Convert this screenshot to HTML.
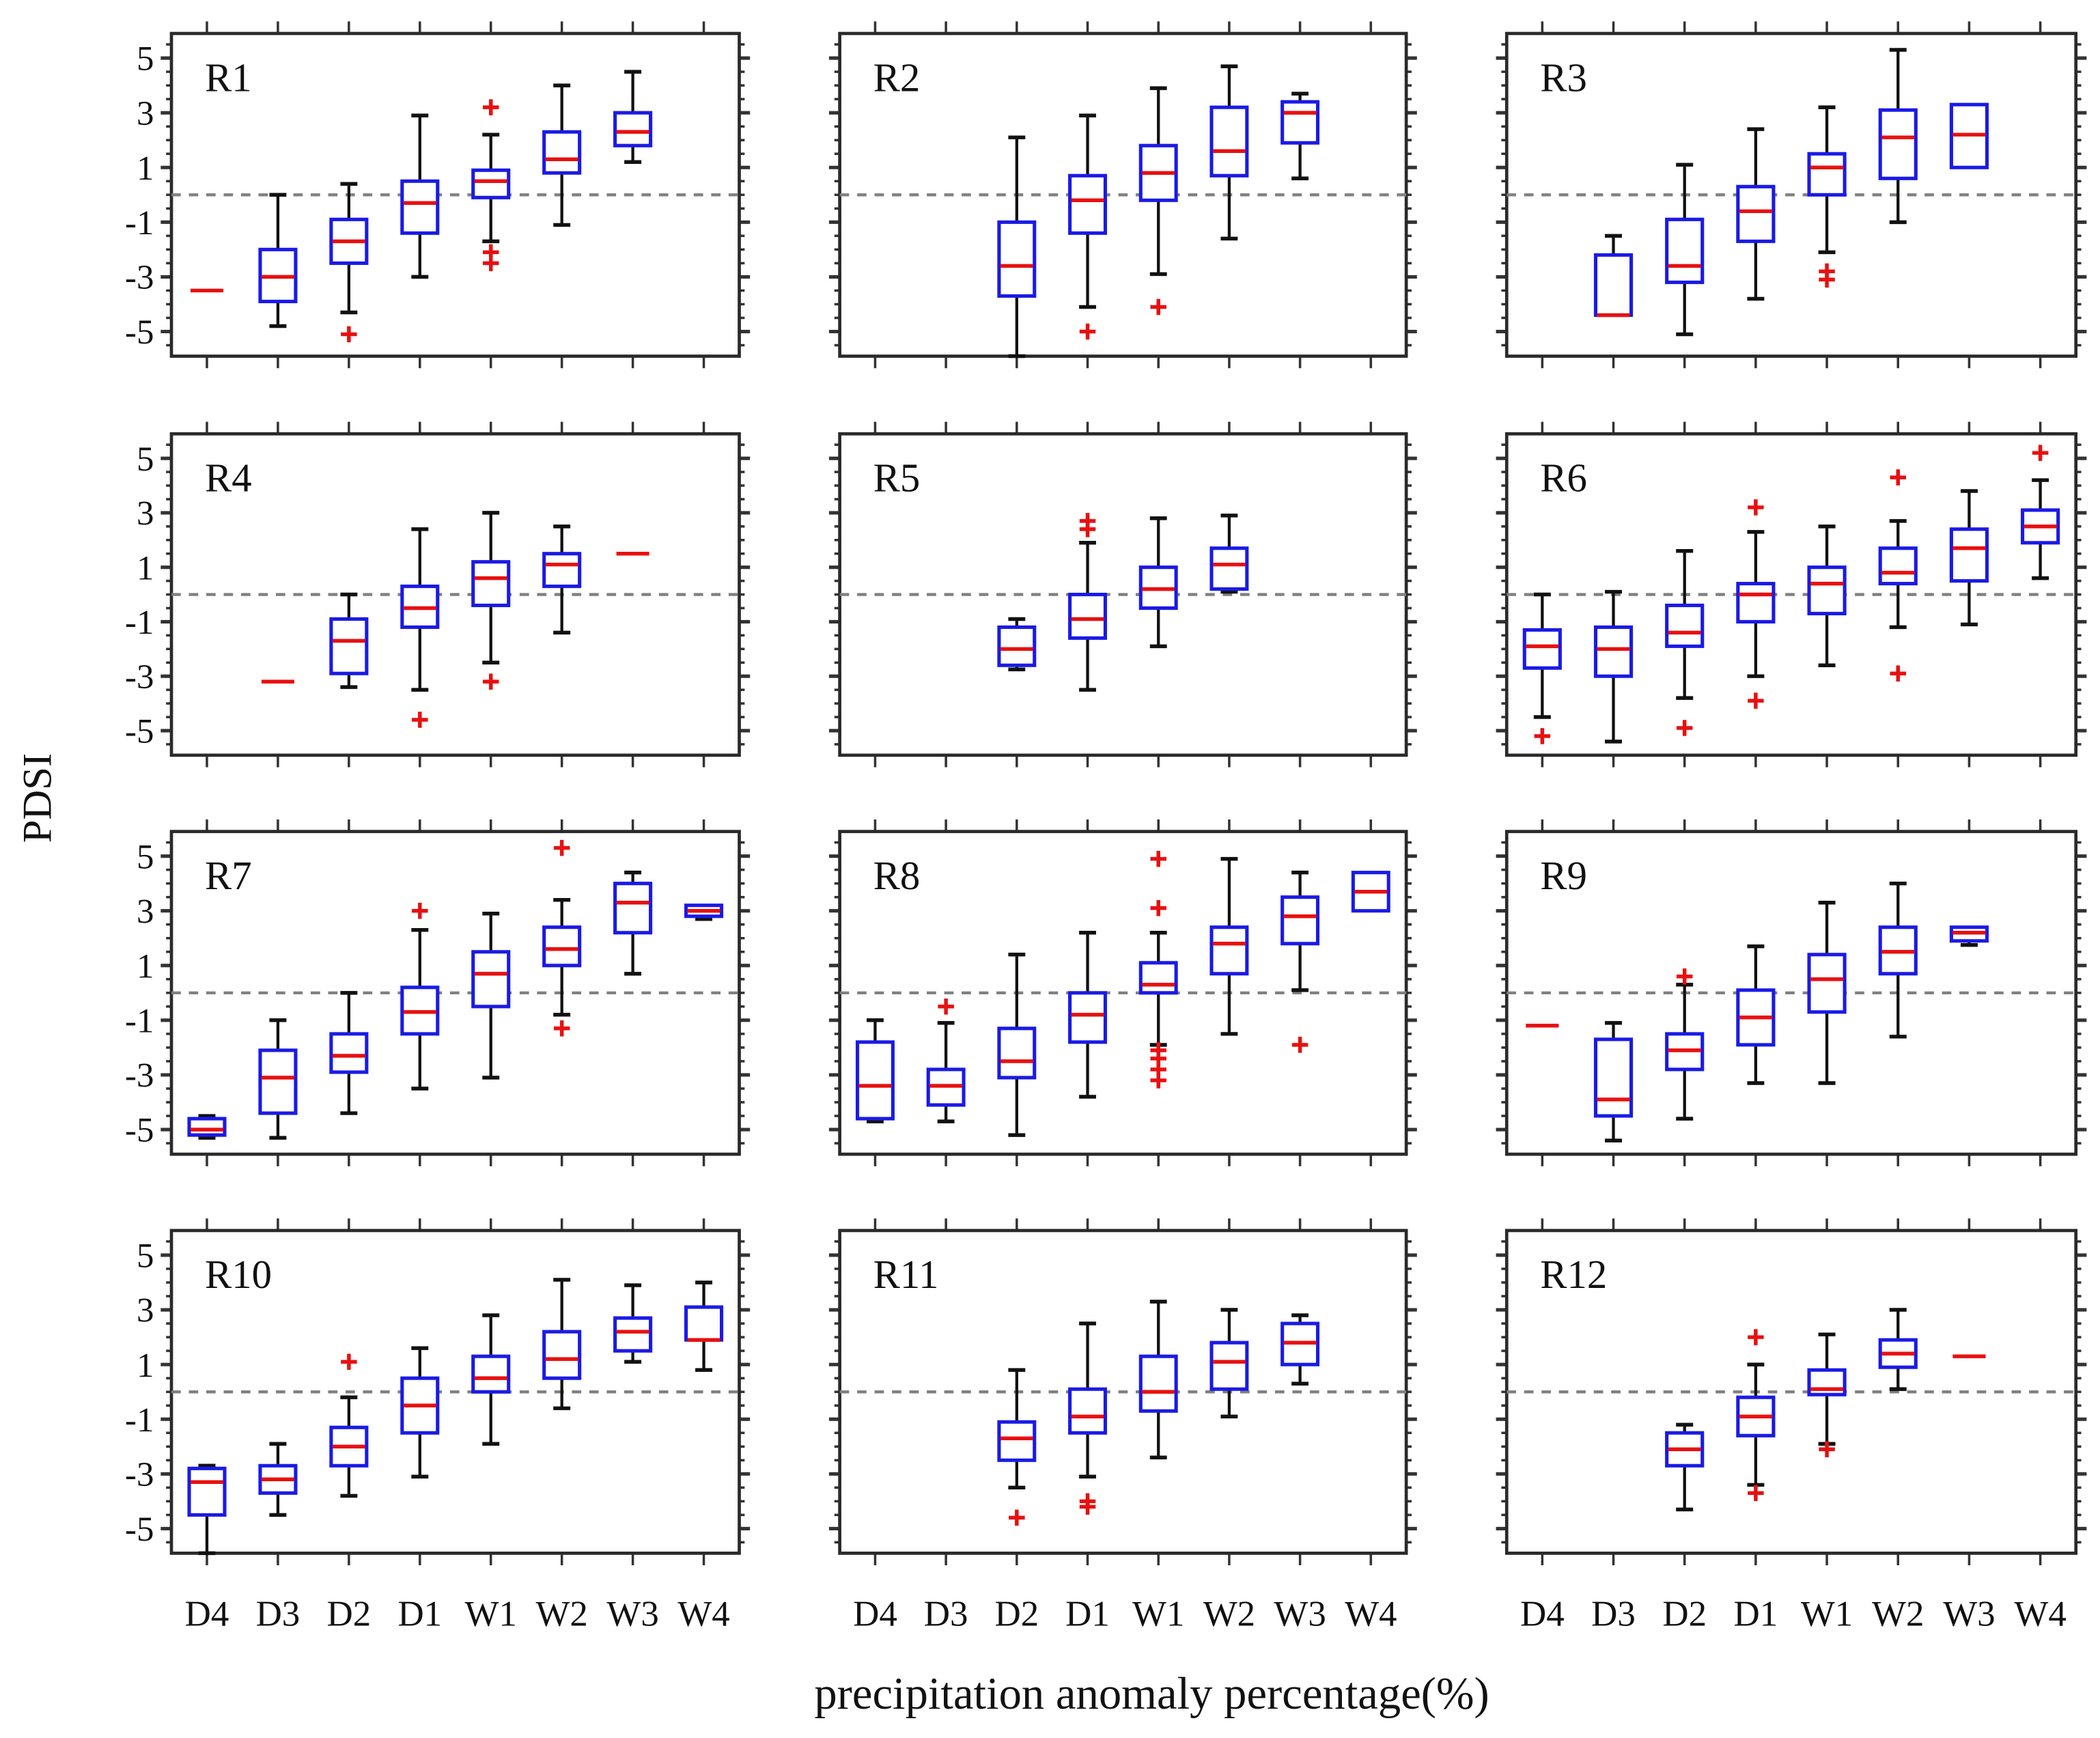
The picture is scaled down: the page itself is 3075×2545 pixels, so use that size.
<!DOCTYPE html>
<html><head><meta charset="utf-8"><style>
html,body{margin:0;padding:0;background:#fff;}
svg{display:block;}
text{font-family:"Liberation Serif",serif;fill:#111;}
</style></head><body>
<svg id="chart" width="3075" height="2545" viewBox="0 0 1568 1298" preserveAspectRatio="none" xmlns="http://www.w3.org/2000/svg">
<text x="0" y="0" font-size="31" text-anchor="middle" transform="translate(38,596) rotate(-90)">PDSI</text>
<text x="860" y="1276" font-size="34" text-anchor="middle">precipitation anomaly percentage(%)</text>
</svg>
<script>
const categories = ["D4","D3","D2","D1","W1","W2","W3","W4"];
const regions = ["R1","R2","R3","R4","R5","R6","R7","R8","R9","R10","R11","R12"];
const yTicks = [5,3,1,-1,-3,-5];
const N = null;
const lowWhisker = [
 [-3.5,-4.8,-4.3,-3.0,-1.7,-1.1,1.2,N],
 [N,N,-5.9,-4.1,-2.9,-1.6,0.6,N],
 [N,-4.4,-5.1,-3.8,-2.1,-1.0,1.0,N],
 [N,-3.2,-3.4,-3.5,-2.5,-1.4,1.5,N],
 [N,N,-2.75,-3.5,-1.9,0.1,N,N],
 [-4.5,-5.4,-3.8,-3.0,-2.6,-1.2,-1.1,0.6],
 [-5.3,-5.3,-4.4,-3.5,-3.1,-0.8,0.7,2.7],
 [-4.7,-4.7,-5.2,-3.8,-1.9,-1.5,0.1,3.0],
 [-1.2,-5.4,-4.6,-3.3,-3.3,-1.6,1.75,N],
 [-5.9,-4.5,-3.8,-3.1,-1.9,-0.6,1.1,0.8],
 [N,N,-3.5,-3.1,-2.4,-0.9,0.3,N],
 [N,N,-4.3,-3.4,-1.9,0.1,1.3,N]
];
const quartile1 = [
 [-3.5,-3.9,-2.5,-1.4,-0.1,0.8,1.8,N],
 [N,N,-3.7,-1.4,-0.2,0.7,1.9,N],
 [N,-4.4,-3.2,-1.7,0.0,0.6,1.0,N],
 [N,-3.2,-2.9,-1.2,-0.4,0.3,1.5,N],
 [N,N,-2.6,-1.6,-0.5,0.2,N,N],
 [-2.7,-3.0,-1.9,-1.0,-0.7,0.4,0.5,1.9],
 [-5.2,-4.4,-2.9,-1.5,-0.5,1.0,2.2,2.8],
 [-4.6,-4.1,-3.1,-1.8,0.0,0.7,1.8,3.0],
 [-1.2,-4.5,-2.8,-1.9,-0.7,0.7,1.9,N],
 [-4.5,-3.7,-2.7,-1.5,0.0,0.5,1.5,1.9],
 [N,N,-2.5,-1.5,-0.7,0.1,1.0,N],
 [N,N,-2.7,-1.6,-0.1,0.9,1.3,N]
];
const medians = [
 [-3.5,-3.0,-1.7,-0.3,0.5,1.3,2.3,N],
 [N,N,-2.6,-0.2,0.8,1.6,3.0,N],
 [N,-4.4,-2.6,-0.6,1.0,2.1,2.2,N],
 [N,-3.2,-1.7,-0.5,0.6,1.1,1.5,N],
 [N,N,-2.0,-0.9,0.2,1.1,N,N],
 [-1.9,-2.0,-1.4,0.0,0.4,0.8,1.7,2.5],
 [-5.0,-3.1,-2.3,-0.7,0.7,1.6,3.3,3.0],
 [-3.4,-3.4,-2.5,-0.8,0.3,1.8,2.8,3.7],
 [-1.2,-3.9,-2.1,-0.9,0.5,1.5,2.2,N],
 [-3.3,-3.2,-2.0,-0.5,0.5,1.2,2.2,1.9],
 [N,N,-1.7,-0.9,0.0,1.1,1.8,N],
 [N,N,-2.1,-0.9,0.1,1.4,1.3,N]
];
const quartile3 = [
 [-3.5,-2.0,-0.9,0.5,0.9,2.3,3.0,N],
 [N,N,-1.0,0.7,1.8,3.2,3.4,N],
 [N,-2.2,-0.9,0.3,1.5,3.1,3.3,N],
 [N,-3.2,-0.9,0.3,1.2,1.5,1.5,N],
 [N,N,-1.2,0.0,1.0,1.7,N,N],
 [-1.3,-1.2,-0.4,0.4,1.0,1.7,2.4,3.1],
 [-4.6,-2.1,-1.5,0.2,1.5,2.4,4.0,3.2],
 [-1.8,-2.8,-1.3,0.0,1.1,2.4,3.5,4.4],
 [-1.2,-1.7,-1.5,0.1,1.4,2.4,2.4,N],
 [-2.8,-2.7,-1.3,0.5,1.3,2.2,2.7,3.1],
 [N,N,-1.1,0.1,1.3,1.8,2.5,N],
 [N,N,-1.5,-0.2,0.8,1.9,1.3,N]
];
const highWhisker = [
 [-3.5,0.0,0.4,2.9,2.2,4.0,4.5,N],
 [N,N,2.1,2.9,3.9,4.7,3.7,N],
 [N,-1.5,1.1,2.4,3.2,5.3,3.3,N],
 [N,-3.2,0.0,2.4,3.0,2.5,1.5,N],
 [N,N,-0.9,1.9,2.8,2.9,N,N],
 [0.0,0.1,1.6,2.3,2.5,2.7,3.8,4.2],
 [-4.5,-1.0,0.0,2.3,2.9,3.4,4.4,3.2],
 [-1.0,-1.1,1.4,2.2,2.2,4.9,4.4,4.4],
 [-1.2,-1.1,0.3,1.7,3.3,4.0,2.4,N],
 [-2.7,-1.9,-0.2,1.6,2.8,4.1,3.9,4.0],
 [N,N,0.8,2.5,3.3,3.0,2.8,N],
 [N,N,-1.2,1.0,2.1,3.0,1.3,N]
];
const outliers = [
 [[],[],[-5.1],[],[3.2,-2.1,-2.5],[],[],[]],
 [[],[],[],[-5.0],[-4.1],[],[],[]],
 [[],[],[],[],[-2.8,-3.1],[],[],[]],
 [[],[],[],[-4.6],[-3.2],[],[],[]],
 [[],[],[],[2.4,2.7],[],[],[],[]],
 [[-5.2],[],[-4.9],[3.2,-3.9],[],[4.3,-2.9],[],[5.2]],
 [[],[],[],[3.0],[],[5.3,-1.3],[],[]],
 [[],[-0.5],[],[],[4.9,3.1,-2.1,-2.4,-2.8,-3.2],[],[-1.9],[]],
 [[],[],[0.6],[],[],[],[],[]],
 [[],[],[1.1],[],[],[],[],[]],
 [[],[],[-4.6],[-4.0,-4.2],[],[],[],[]],
 [[],[],[],[2.0,-3.7],[-2.1],[],[],[]]
];

const NS = "http://www.w3.org/2000/svg";
const svg = document.getElementById("chart");
const colX = [[128,552],[627,1050],[1125,1550]];
const rowY = [[25,266],[324,564],[621,862],[919,1160]];
const yMin = -5.9, yMax = 5.9;
function mk(tag, attrs, parent){
  const e = document.createElementNS(NS, tag);
  for (const k in attrs) e.setAttribute(k, attrs[k]);
  (parent||svg).appendChild(e);
  return e;
}
regions.forEach((name, r) => {
  const c = r % 3, row = Math.floor(r / 3);
  const [x0, x1] = colX[c], [y0, y1] = rowY[row];
  const g = mk("g", {});
  
  
  const step = (x1 - x0) / categories.length;
  const xs = i => x0 + step * (i + 0.5);
  const ys = v => y1 - (v - yMin) / (yMax - yMin) * (y1 - y0);
  for (let v = -5.5; v <= 5.51; v += 0.5) {
    const isMajor = Math.abs(((v + 5) % 2)) < 0.01 && Number.isInteger(v);
    const L = isMajor ? 8 : 4;
    mk("line", {x1: x0 - L, x2: x0, y1: ys(v), y2: ys(v), stroke: "#333", "stroke-width": isMajor ? 2.6 : 1.8}, g);
    mk("line", {x1: x1, x2: x1 + L, y1: ys(v), y2: ys(v), stroke: "#333", "stroke-width": isMajor ? 2.6 : 1.8}, g);
  }
  categories.forEach((cat, i) => {
    mk("line", {x1: xs(i), x2: xs(i), y1: y1, y2: y1 + 9, stroke: "#333", "stroke-width": 1.8}, g);
    mk("line", {x1: xs(i), x2: xs(i), y1: y0 - 9, y2: y0, stroke: "#333", "stroke-width": 1.8}, g);
  });
  const fr = mk("rect", {x: x0, y: y0, width: x1 - x0, height: y1 - y0, fill: "none", stroke: "#2a2a2a", "stroke-width": 2.4}, g);
  
  
  const zl = mk("line", {x1: x0, x2: x1, y1: ys(0), y2: ys(0), stroke: "#808080", "stroke-width": 2.2, "stroke-dasharray": "7,6"}, g);
  
  
  const lab = mk("text", {x: x0 + 25, y: y0 + 43, "font-size": 30}, g);
  lab.textContent = name;
  
  
  if (c === 0) {
    yTicks.forEach(t => {
      const tl = mk("text", {x: x0 - 13, y: ys(t) + 9, "font-size": 26, "text-anchor": "end"}, g);
      tl.textContent = t;
      
      
    });
  }
  if (row === 3) {
    categories.forEach((cat, i) => {
      const xl = mk("text", {x: xs(i), y: 1214, "font-size": 27, "text-anchor": "middle"}, g);
      xl.textContent = cat;
      
      
    });
  }
  const bw = step * 0.5, cw = step * 0.24;
  categories.forEach((cat, i) => {
    const m = medians[r][i];
    if (m === null) return;
    const bg = mk("g", {}, g);
    
    
    const lo = lowWhisker[r][i], hi = highWhisker[r][i], q1 = quartile1[r][i], q3 = quartile3[r][i];
    const x = xs(i);
    if (hi > q3) {
      mk("line", {x1: x, x2: x, y1: ys(hi), y2: ys(q3), stroke: "#111", "stroke-width": 2.2}, bg);
      mk("line", {x1: x - cw/2, x2: x + cw/2, y1: ys(hi), y2: ys(hi), stroke: "#111", "stroke-width": 2.8}, bg);
    }
    if (lo < q1) {
      mk("line", {x1: x, x2: x, y1: ys(q1), y2: ys(lo), stroke: "#111", "stroke-width": 2.2}, bg);
      mk("line", {x1: x - cw/2, x2: x + cw/2, y1: ys(lo), y2: ys(lo), stroke: "#111", "stroke-width": 2.8}, bg);
    }
    if (q3 > q1) {
      mk("rect", {x: x - bw/2, y: ys(q3), width: bw, height: ys(q1) - ys(q3), fill: "#fff", stroke: "#1a1ae6", "stroke-width": 2.6}, bg);
    }
    mk("line", {x1: x - bw/2 + 1, x2: x + bw/2 - 1, y1: ys(m), y2: ys(m), stroke: "#e81010", "stroke-width": 2.8}, bg);
    outliers[r][i].forEach(o => {
      const og = mk("g", {}, bg);
      
      
      mk("line", {x1: x - 6, x2: x + 6, y1: ys(o), y2: ys(o), stroke: "#e81010", "stroke-width": 2.8}, og);
      mk("line", {x1: x, x2: x, y1: ys(o) - 6, y2: ys(o) + 6, stroke: "#e81010", "stroke-width": 2.8}, og);
    });
  });
});
</script>
</body></html>
